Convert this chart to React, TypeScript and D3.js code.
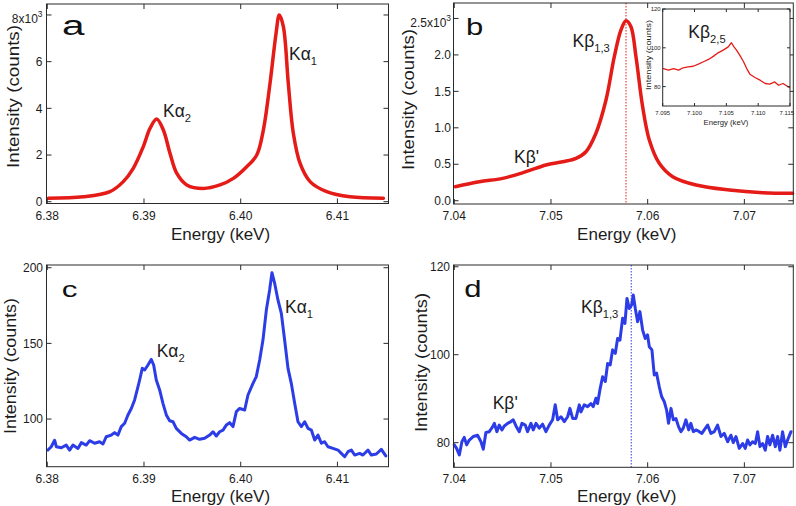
import React from "react";
import * as d3 from "d3";

const FONT = "'Liberation Sans', Arial, Helvetica, sans-serif";
const RED = "#e41b17";
const BLUE = "#2c3de8";
const INK = "#1c1c1c";

// ---------- Panel a: K-alpha (calculated, smooth) ----------
const energyA = [6.38011, 6.38372, 6.38648, 6.38786, 6.38889, 6.38993, 6.39062, 6.39131, 6.392, 6.39269, 6.39338, 6.39442, 6.39613, 6.39786, 6.39924, 6.40062, 6.40166, 6.40234, 6.40303, 6.40365, 6.40399, 6.40441, 6.40492, 6.40544, 6.40613, 6.40717, 6.40889, 6.4113, 6.41475];
const countsA = [150, 210, 430, 860, 1430, 2360, 3140, 3540, 3070, 2070, 1220, 720, 570, 720, 1000, 1500, 2000, 3070, 5070, 7200, 8000, 7500, 5070, 2930, 1650, 860, 430, 210, 150];

// ---------- Panel b: K-beta (calculated, smooth) ----------
const energyB = [7.0401, 7.04259, 7.045, 7.04741, 7.04948, 7.05121, 7.05259, 7.05362, 7.05465, 7.05569, 7.05655, 7.05724, 7.05776, 7.05827, 7.05879, 7.05948, 7.06017, 7.0612, 7.06259, 7.065, 7.06844, 7.07189, 7.07499];
const countsB = [192, 261, 307, 398, 490, 535, 582, 672, 925, 1381, 1975, 2342, 2469, 2387, 1975, 1289, 833, 513, 329, 215, 147, 110, 102];

// ---------- Inset: K-beta 2,5 ----------
const energyInset = [7.0951, 7.0959, 7.0967, 7.0975, 7.0982, 7.099, 7.0998, 7.1006, 7.1014, 7.1022, 7.103, 7.1037, 7.1045, 7.1053, 7.1058, 7.1062, 7.1066, 7.1071, 7.1077, 7.1082, 7.1087, 7.1095, 7.1103, 7.1111, 7.1118, 7.1126, 7.1132, 7.1139, 7.1149];
const countsInset = [89.3, 88.5, 89.3, 88.5, 89.7, 90.2, 90.5, 91.6, 92.8, 94.0, 95.7, 97.4, 98.8, 100.5, 102.6, 100.5, 98.8, 96.2, 92.8, 89.3, 86.4, 84.7, 83.3, 81.6, 81.3, 82.4, 80.7, 81.6, 79.5];

// ---------- Panel c: K-alpha (measured) ----------
const energyC = [6.38007, 6.38041, 6.38076, 6.38093, 6.38145, 6.38196, 6.38231, 6.38265, 6.38317, 6.38352, 6.38403, 6.38438, 6.38489, 6.38541, 6.38576, 6.3861, 6.38662, 6.38696, 6.38731, 6.38765, 6.388, 6.38834, 6.38869, 6.38903, 6.38938, 6.38955, 6.38982, 6.39007, 6.39041, 6.39075, 6.391, 6.39127, 6.39162, 6.39196, 6.39231, 6.39265, 6.393, 6.39334, 6.39386, 6.39437, 6.39472, 6.39524, 6.39575, 6.39627, 6.39679, 6.39713, 6.39748, 6.39782, 6.39817, 6.39851, 6.39886, 6.3992, 6.39955, 6.39989, 6.40041, 6.40075, 6.40127, 6.40161, 6.40196, 6.4023, 6.40265, 6.40299, 6.40323, 6.40351, 6.40385, 6.4042, 6.40454, 6.40489, 6.40523, 6.40558, 6.40592, 6.40627, 6.40661, 6.40696, 6.4073, 6.40765, 6.40799, 6.40834, 6.40868, 6.40902, 6.40954, 6.41006, 6.4104, 6.41075, 6.41109, 6.41144, 6.41178, 6.4123, 6.41264, 6.41316, 6.41351, 6.41402, 6.41454, 6.415];
const countsC = [79.5, 81.7, 86, 81.7, 81, 82.8, 79.5, 82.8, 80.6, 84.4, 82.8, 85.7, 84, 85, 83.5, 88.3, 89.4, 91, 89.4, 95, 97.2, 102.7, 107, 112.6, 121.4, 125.8, 133.5, 132.4, 135.7, 139.4, 135.7, 125.8, 119.2, 110.4, 102.7, 98.9, 98.2, 93.8, 90.5, 88.3, 86.1, 87.9, 86.6, 87.3, 89.4, 91.6, 88.8, 91.6, 92.7, 96, 97.6, 95, 104.9, 107, 106, 115.9, 123.6, 128, 139, 152.2, 172, 185.3, 196.7, 189.7, 178.7, 169.8, 152.2, 133.5, 123.6, 110.4, 98.2, 95, 98.2, 93.8, 92.7, 86.1, 89.4, 84, 85, 81.7, 80.6, 79.5, 77.3, 75.1, 78.4, 79.5, 76.2, 77.3, 76.2, 79.5, 76.2, 76.9, 80, 75.6];

// ---------- Panel d: K-beta (measured) ----------
const energyD = [7.04, 7.04024, 7.04052, 7.04079, 7.04103, 7.04128, 7.04155, 7.04196, 7.04241, 7.04276, 7.043, 7.04327, 7.04362, 7.04396, 7.04414, 7.04441, 7.04465, 7.04493, 7.04517, 7.04552, 7.04586, 7.0461, 7.04638, 7.04672, 7.047, 7.04734, 7.04758, 7.04793, 7.04817, 7.04845, 7.04879, 7.04913, 7.04948, 7.04982, 7.05017, 7.05044, 7.05069, 7.05103, 7.05138, 7.05172, 7.05196, 7.05224, 7.05258, 7.05293, 7.0531, 7.05344, 7.05379, 7.05413, 7.05437, 7.05465, 7.05482, 7.05506, 7.05534, 7.05562, 7.05586, 7.05613, 7.05637, 7.05665, 7.05689, 7.05713, 7.05741, 7.05765, 7.05786, 7.0581, 7.05834, 7.05851, 7.05872, 7.05896, 7.0592, 7.05948, 7.05975, 7.05999, 7.06017, 7.06044, 7.06068, 7.06092, 7.0612, 7.06144, 7.06172, 7.06196, 7.06216, 7.06241, 7.06265, 7.06292, 7.0632, 7.06344, 7.06368, 7.06396, 7.06424, 7.06447, 7.06472, 7.06499, 7.06534, 7.06561, 7.06585, 7.0662, 7.06654, 7.06689, 7.06723, 7.06758, 7.06792, 7.06827, 7.06861, 7.06885, 7.06913, 7.06947, 7.06982, 7.07009, 7.07033, 7.07058, 7.07085, 7.07113, 7.07137, 7.07161, 7.07189, 7.07216, 7.0724, 7.07264, 7.07292, 7.0732, 7.07344, 7.07368, 7.07395, 7.07423, 7.07447, 7.07482];
const countsD = [79.5, 78.7, 77.2, 80.2, 81.2, 79.5, 80.6, 81.4, 81.7, 80.2, 78.5, 82.3, 82.5, 83.6, 84.4, 82.5, 84, 82.9, 83.8, 84.4, 84.8, 85.2, 83.8, 82.5, 84.4, 84, 82.5, 84.4, 82.9, 84.4, 83.3, 84.2, 82.5, 84, 85.2, 88.6, 85.2, 85.9, 84.8, 85.9, 87.8, 85.5, 85.5, 88.6, 87, 88.6, 88.2, 88.9, 88.2, 90.1, 88.9, 92, 95, 93.9, 98, 97.7, 101.1, 100.3, 103.7, 103.3, 108.3, 107.1, 112.8, 110.5, 111.3, 113.6, 110.5, 107.5, 109.8, 105.6, 103.7, 104.5, 101.8, 101.1, 95.4, 95.8, 92.7, 90.5, 89.3, 87.4, 84.4, 87.8, 85.2, 85.5, 83.6, 82.5, 83.3, 85.2, 82.9, 84.4, 82.5, 82.9, 82.5, 82.1, 82.9, 84, 82.1, 82.5, 84, 81.4, 82.1, 80.2, 81.7, 80, 81.4, 78.7, 79.8, 78.7, 80.6, 79.5, 80.2, 79.8, 82.5, 79.1, 79.8, 78.3, 81.4, 79.5, 81.7, 79.1, 81.4, 78.3, 82.5, 79.1, 80.6, 82.5];

// ---------- Axis ticks ----------
const ticksKaX = [6.38, 6.39, 6.40, 6.41];
const ticksKaXLabels = ["6.38", "6.39", "6.40", "6.41"];
const ticksKbX = [7.04, 7.05, 7.06, 7.07];
const ticksKbXLabels = ["7.04", "7.05", "7.06", "7.07"];
const ticksAY = [0, 2000, 4000, 6000, 8000];
const ticksAYLabels = ["0", "2", "4", "6", "8x10"];
const ticksBY = [0, 500, 1000, 1500, 2000, 2500];
const ticksBYLabels = ["0.0", "0.5", "1.0", "1.5", "2.0", "2.5x10"];
const ticksCY = [100, 150, 200];
const ticksCYLabels = ["100", "150", "200"];
const ticksDY = [80, 100, 120];
const ticksDYLabels = ["80", "100", "120"];
const ticksInsetX = [7.095, 7.1, 7.105, 7.11, 7.115];
const ticksInsetXLabels = ["7.095", "7.100", "7.105", "7.110", "7.115"];
const ticksInsetY = [80, 100, 120];
const ticksInsetYLabels = ["80", "100", "120"];

const peakKb13A = 7.05776;
const peakKb13C = 7.0583;

type Frame = { l: number; r: number; t: number; b: number };

type PanelProps = {
  frame: Frame;
  xDomain: [number, number];
  yDomain: [number, number];
  xs: number[];
  ys: number[];
  color: string;
  width: number;
  smooth?: boolean;
  xTicks: number[];
  xTickLabels: string[];
  yTicks: number[];
  yTickLabels: string[];
  supIndex?: number;
  supShift?: number;
  tickLen?: number;
  tickFont?: number;
  xLabelDy?: number;
  yLabelGap?: number;
  xLabelMaxRight?: number;
  xTitle: { x: number; y: number; size: number };
  yTitle: { x: number; y: number; size: number; len: number };
  vline?: number;
  bg?: boolean;
  children?: (x: d3.ScaleLinear<number, number>, y: d3.ScaleLinear<number, number>) => React.ReactNode;
};

function Panel(p: PanelProps) {
  const { frame } = p;
  const x = d3.scaleLinear().domain(p.xDomain).range([frame.l, frame.r]);
  const y = d3.scaleLinear().domain(p.yDomain).range([frame.b, frame.t]);
  const line = d3
    .line<number>()
    .x((_, i) => x(p.xs[i]))
    .y((d) => y(d))
    .curve(p.smooth ? d3.curveCatmullRom.alpha(0.5) : d3.curveLinear);
  const tl = p.tickLen ?? 5;
  const tf = p.tickFont ?? 12;
  const xdy = p.xLabelDy ?? 16;
  const gap = p.yLabelGap ?? 3.5;
  return (
    <g>
      {p.bg && <rect x={frame.l} y={frame.t} width={frame.r - frame.l} height={frame.b - frame.t} fill="#fff" />}
      {p.vline !== undefined && (
        <line x1={x(p.vline)} x2={x(p.vline)} y1={frame.t} y2={frame.b} stroke={p.color} strokeWidth={1} strokeDasharray="1.5,1.5" />
      )}
      <path d={line(p.ys) || ""} fill="none" stroke={p.color} strokeWidth={p.width} strokeLinejoin="round" strokeLinecap="round" />
      <rect x={frame.l} y={frame.t} width={frame.r - frame.l} height={frame.b - frame.t} fill="none" stroke="#2a2a2a" strokeWidth={1} />
      {p.xTicks.map((t, i) => {
        const label = p.xTickLabels[i];
        const halfW = label.length * tf * 0.27;
        const cx = p.xLabelMaxRight !== undefined ? Math.min(x(t), p.xLabelMaxRight - halfW) : x(t);
        return (
          <g key={"xt" + i}>
            <line x1={x(t)} x2={x(t)} y1={frame.b} y2={frame.b - tl} stroke="#2a2a2a" strokeWidth={1} />
            <line x1={x(t)} x2={x(t)} y1={frame.t} y2={frame.t + tl} stroke="#2a2a2a" strokeWidth={1} />
            <text x={cx} y={frame.b + xdy} fontSize={tf} textAnchor="middle" fill={INK} fontFamily={FONT}>
              {label}
            </text>
          </g>
        );
      })}
      {p.yTicks.map((t, i) => (
        <g key={"yt" + i}>
          <line x1={frame.l} x2={frame.l + tl} y1={y(t)} y2={y(t)} stroke="#2a2a2a" strokeWidth={1} />
          <line x1={frame.r} x2={frame.r - tl} y1={y(t)} y2={y(t)} stroke="#2a2a2a" strokeWidth={1} />
          <text
            x={frame.l - gap}
            y={y(t) + (p.supIndex === i ? p.supShift ?? 0 : 0)}
            dy="0.35em"
            fontSize={tf}
            textAnchor="end"
            fill={INK}
            fontFamily={FONT}
          >
            {p.yTickLabels[i]}
            {p.supIndex === i && (
              <tspan dy={-6} fontSize={tf * 0.7}>
                3
              </tspan>
            )}
          </text>
        </g>
      ))}
      <text x={p.xTitle.x} y={p.xTitle.y} fontSize={p.xTitle.size} textAnchor="middle" fill={INK} fontFamily={FONT}>
        Energy (keV)
      </text>
      <text
        transform={`translate(${p.yTitle.x},${p.yTitle.y}) rotate(-90)`}
        fontSize={p.yTitle.size}
        textAnchor="middle"
        fill={INK}
        fontFamily={FONT}
        textLength={p.yTitle.len}
        lengthAdjust="spacingAndGlyphs"
      >
        Intensity (counts)
      </text>
      {p.children && p.children(x, y)}
    </g>
  );
}

function PeakLabel(props: { x: number; y: number; main: string; sub?: string; size?: number }) {
  const s = props.size ?? 17.5;
  return (
    <text x={props.x} y={props.y} fontSize={s} fill={INK} fontFamily={FONT}>
      {props.main}
      {props.sub && (
        <tspan dy={5} fontSize={s * 0.64}>
          {props.sub}
        </tspan>
      )}
    </text>
  );
}

function Letter(props: { x: number; y: number; ch: string; size: number; sx: number }) {
  return (
    <text transform={`translate(${props.x},${props.y}) scale(${props.sx},1)`} fontSize={props.size} fill="#111" fontFamily={FONT}>
      {props.ch}
    </text>
  );
}

export default function App() {
  const frameA: Frame = { l: 46.5, r: 388.5, t: 4, b: 203.5 };
  const frameB: Frame = { l: 453.5, r: 793.3, t: 3, b: 204 };
  const frameC: Frame = { l: 46.5, r: 388.5, t: 265, b: 466.7 };
  const frameD: Frame = { l: 453.5, r: 793.3, t: 265, b: 467.3 };
  const frameI: Frame = { l: 662.7, r: 790, t: 9, b: 106 };
  const xDomKa: [number, number] = [6.37992, 6.41528];
  const xDomKb: [number, number] = [7.03992, 7.07506];
  return (
    <svg width={796} height={506} style={{ position: "absolute", left: 0, top: 0, background: "#fff" }}>
      <rect x={0} y={0} width={796} height={506} fill="#fff" />
      <Panel
        frame={frameA}
        xDomain={xDomKa}
        yDomain={[-77, 8470]}
        xs={energyA}
        ys={countsA}
        color={RED}
        width={3.5}
        smooth
        xTicks={ticksKaX}
        xTickLabels={ticksKaXLabels}
        yTicks={ticksAY}
        yTickLabels={ticksAYLabels}
        supIndex={4}
        supShift={4}
        yLabelGap={4}
        xTitle={{ x: 220.5, y: 240, size: 17 }}
        yTitle={{ x: 18.5, y: 96.5, size: 16.5, len: 143 }}
      >
        {() => (
          <g>
            <PeakLabel x={163} y={117} main="Kα" sub="2" />
            <PeakLabel x={289} y={59.5} main="Kα" sub="1" />
          </g>
        )}
      </Panel>
      <Panel
        frame={frameB}
        xDomain={xDomKb}
        yDomain={[-45, 2712]}
        xs={energyB}
        ys={countsB}
        color={RED}
        width={3.5}
        smooth
        xTicks={ticksKbX}
        xTickLabels={ticksKbXLabels}
        yTicks={ticksBY}
        yTickLabels={ticksBYLabels}
        supIndex={5}
        supShift={4}
        yLabelGap={2.5}
        xTitle={{ x: 626.7, y: 240, size: 17 }}
        yTitle={{ x: 413.5, y: 99.5, size: 16.5, len: 141 }}
        vline={peakKb13A}
      >
        {() => (
          <g>
            <PeakLabel x={572.5} y={46.5} main="Kβ" sub="1,3" />
            <PeakLabel x={514} y={163.3} main="Kβ'" />
          </g>
        )}
      </Panel>
      <Panel
        frame={frameI}
        xDomain={[7.095, 7.115]}
        yDomain={[70, 120]}
        xs={energyInset}
        ys={countsInset}
        color={RED}
        width={1.3}
        bg
        tickLen={3}
        tickFont={6}
        xLabelDy={8.5}
        yLabelGap={2}
        xLabelMaxRight={795}
        xTicks={ticksInsetX}
        xTickLabels={ticksInsetXLabels}
        yTicks={ticksInsetY}
        yTickLabels={ticksInsetYLabels}
        xTitle={{ x: 726, y: 124.5, size: 7.7 }}
        yTitle={{ x: 651, y: 55, size: 7.7, len: 70 }}
      >
        {() => <PeakLabel x={688.3} y={38.3} main="Kβ" sub="2,5" />}
      </Panel>
      <Panel
        frame={frameC}
        xDomain={xDomKa}
        yDomain={[68.5, 201.8]}
        xs={energyC}
        ys={countsC}
        color={BLUE}
        width={3}
        xTicks={ticksKaX}
        xTickLabels={ticksKaXLabels}
        yTicks={ticksCY}
        yTickLabels={ticksCYLabels}
        xTitle={{ x: 220.5, y: 502, size: 17 }}
        yTitle={{ x: 15.5, y: 366, size: 16.5, len: 136 }}
      >
        {() => (
          <g>
            <PeakLabel x={156.7} y={357.3} main="Kα" sub="2" />
            <PeakLabel x={285} y={312.7} main="Kα" sub="1" />
          </g>
        )}
      </Panel>
      <Panel
        frame={frameD}
        xDomain={xDomKb}
        yDomain={[74.4, 120.4]}
        xs={energyD}
        ys={countsD}
        color={BLUE}
        width={3}
        xTicks={ticksKbX}
        xTickLabels={ticksKbXLabels}
        yTicks={ticksDY}
        yTickLabels={ticksDYLabels}
        xTitle={{ x: 626.7, y: 502, size: 17 }}
        yTitle={{ x: 426.5, y: 362.5, size: 16.5, len: 139 }}
        vline={peakKb13C}
      >
        {() => (
          <g>
            <PeakLabel x={581} y={313.3} main="Kβ" sub="1,3" />
            <PeakLabel x={492.7} y={409.3} main="Kβ'" />
          </g>
        )}
      </Panel>
      <Letter x={62} y={35} ch="a" size={27} sx={1.5} />
      <Letter x={466} y={35} ch="b" size={23} sx={1.35} />
      <Letter x={61.7} y={296.7} ch="c" size={22.5} sx={1.4} />
      <Letter x={464.3} y={296.7} ch="d" size={23} sx={1.35} />
    </svg>
  );
}
